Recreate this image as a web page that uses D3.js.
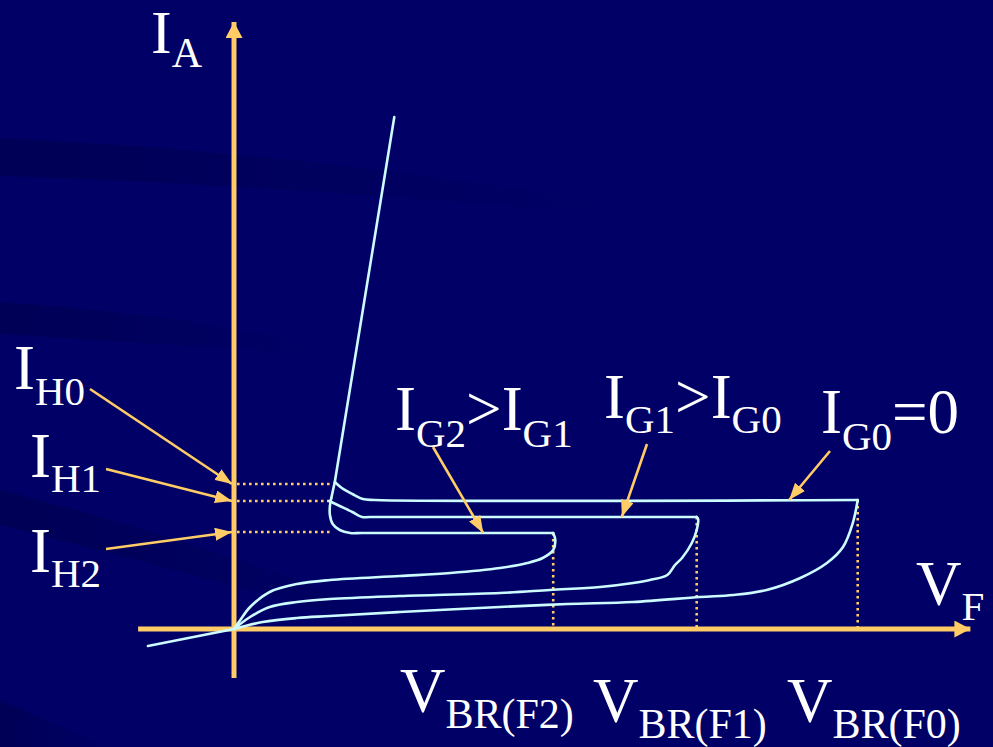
<!DOCTYPE html>
<html>
<head>
<meta charset="utf-8">
<script src="https://cdn.jsdelivr.net/npm/d3@7"></script>
<style>
  html, body { margin: 0; padding: 0; background: #000066; }
  svg { display: block; }
</style>
</head>
<body>
<svg id="chart" width="993" height="747"></svg>
<script>
// Thyristor forward characteristic: anode current I_A against forward voltage V_F
// for three gate currents (I_G0 = 0 < I_G1 < I_G2).

// breakover voltages V_BR(F0), V_BR(F1), V_BR(F2)
const breakoverV = [8.91, 6.61, 4.56];
// current of each latched (horizontal) branch
const latchedI = [2.58, 2.24, 1.92];
// holding currents I_H0, I_H1, I_H2
const holdingI = [2.90, 2.56, 1.94];
// voltage where the holding-current guide lines stop
const kneeV = 1.37;

// forward-blocking branches, origin up to breakover
const blockingG0 = [[0, 0], [0.41, 0.14], [0.9, 0.22], [1.37, 0.26], [2.37, 0.34], [3.8, 0.44],
  [4.76, 0.5], [5.7, 0.54], [6.66, 0.64], [7.13, 0.68], [7.61, 0.78], [8.09, 1.02],
  [8.47, 1.32], [8.7, 1.64], [8.84, 2.12], [8.91, 2.58]];
const blockingG1 = [[0, 0], [0.23, 0.24], [0.51, 0.44], [0.9, 0.54], [1.37, 0.6], [2.37, 0.66],
  [3.8, 0.72], [4.51, 0.78], [5.23, 0.84], [5.7, 0.92], [5.94, 0.98], [6.19, 1.08],
  [6.3, 1.28], [6.4, 1.42], [6.54, 1.72], [6.61, 1.98], [6.63, 2.2], [6.61, 2.24]];
const blockingG2 = [[0, 0], [0.09, 0.18], [0.23, 0.44], [0.51, 0.74], [0.9, 0.9], [1.37, 0.98],
  [2.37, 1.06], [3.09, 1.12], [3.8, 1.22], [4.19, 1.32], [4.41, 1.42], [4.56, 1.58],
  [4.59, 1.78], [4.56, 1.92]];

// latched branches, breakover back to the on-state line
const latchedG0 = [[8.91, 2.58], [2.01, 2.58], [1.84, 2.6], [1.69, 2.7], [1.54, 2.82], [1.44, 2.94]];
const latchedG1 = [[6.61, 2.24], [1.94, 2.24], [1.83, 2.24], [1.69, 2.34], [1.51, 2.46], [1.36, 2.56]];
const latchedG2 = [[4.56, 1.92], [1.83, 1.92], [1.66, 1.92], [1.51, 1.98], [1.41, 2.1],
  [1.37, 2.28], [1.37, 2.46], [1.39, 2.62]];

// on-state (conducting) line and reverse-bias segment
const onState = [[1.39, 2.62], [1.44, 2.94], [2.29, 10.24]];
const reverse = [[-1.23, -0.34], [0, 0]];

// axis extents
const vRange = [-1.37, 10.52];
const iRange = [-0.98, 12.14];

const W = 993, H = 747;
const svg = d3.select("#chart");

const x = d3.scaleLinear().domain([0, 10]).range([234, 934]);
const y = d3.scaleLinear().domain([0, 10]).range([629, 129]);

const AXIS = "#FFCC66";
const CURVE = "#CCFCFF";
const FONT = "'Liberation Serif', 'Times New Roman', serif";

// ---- background with faint darker swoosh bands ----
svg.append("rect").attr("width", W).attr("height", H).attr("fill", "#000066");
const defs = svg.append("defs");
const grad = defs.append("linearGradient").attr("id", "band").attr("x1", 0).attr("x2", 1).attr("y1", 0).attr("y2", 0);
grad.append("stop").attr("offset", "0%").attr("stop-color", "#000050").attr("stop-opacity", 0.75);
grad.append("stop").attr("offset", "60%").attr("stop-color", "#000050").attr("stop-opacity", 0.3);
grad.append("stop").attr("offset", "100%").attr("stop-color", "#000050").attr("stop-opacity", 0);
const bands = [
  "M0,138 Q300,152 620,204 L620,216 Q300,186 0,176 Z",
  "M0,302 Q160,312 320,344 L320,354 Q160,344 0,334 Z",
  "M0,490 Q200,540 420,625 L400,632 Q200,575 0,525 Z",
  "M0,700 Q50,722 110,747 L0,747 Z"
];
svg.selectAll("path.band").data(bands).join("path")
  .attr("class", "band").attr("d", d => d).attr("fill", "url(#band)");

// ---- arrow markers ----
function marker(id, len, wid) {
  defs.append("marker").attr("id", id)
    .attr("markerUnits", "userSpaceOnUse")
    .attr("viewBox", `0 ${-wid / 2} ${len} ${wid}`)
    .attr("refX", len).attr("refY", 0)
    .attr("markerWidth", len).attr("markerHeight", wid)
    .attr("orient", "auto")
    .append("path").attr("d", `M0,${-wid / 2}L${len},0L0,${wid / 2}Z`).attr("fill", AXIS);
}
marker("axisHead", 16, 17);
marker("noteHead", 17, 13);

// ---- dotted guide lines ----
const guides = svg.append("g").attr("stroke", AXIS).attr("stroke-width", 2.6)
  .attr("stroke-dasharray", "2.6,3.4").attr("fill", "none");
holdingI.forEach(h => {
  guides.append("line").attr("x1", x(0) + 3).attr("x2", x(kneeV)).attr("y1", y(h)).attr("y2", y(h));
});
breakoverV.forEach((v, k) => {
  guides.append("line").attr("x1", x(v)).attr("x2", x(v)).attr("y1", y(latchedI[k])).attr("y2", y(0));
});

// ---- axes ----
svg.append("line").attr("x1", x(vRange[0])).attr("x2", x(vRange[1]))
  .attr("y1", y(0)).attr("y2", y(0))
  .attr("stroke", AXIS).attr("stroke-width", 5).attr("marker-end", "url(#axisHead)");
svg.append("line").attr("x1", x(0)).attr("x2", x(0))
  .attr("y1", y(iRange[0])).attr("y2", y(iRange[1]))
  .attr("stroke", AXIS).attr("stroke-width", 5).attr("marker-end", "url(#axisHead)");

// ---- characteristic curves ----
const smooth = d3.line().x(d => x(d[0])).y(d => y(d[1])).curve(d3.curveCatmullRom.alpha(0.5));
const straight = d3.line().x(d => x(d[0])).y(d => y(d[1]));
const curves = svg.append("g").attr("fill", "none").attr("stroke", CURVE)
  .attr("stroke-width", 2.6).attr("stroke-linejoin", "round").attr("stroke-linecap", "round");
[blockingG0, blockingG1, blockingG2, latchedG0, latchedG1, latchedG2].forEach(c => {
  curves.append("path").attr("d", smooth(c));
});
curves.append("path").attr("d", straight(onState));
curves.append("path").attr("d", straight(reverse));

// ---- labels ----
function label(px, py, parts, drop, main = 63, sub = 41) {
  const t = svg.append("text").attr("x", px).attr("y", py)
    .attr("fill", "#ffffff").attr("font-family", FONT).attr("font-size", main);
  let low = false;
  parts.forEach(([s, isSub]) => {
    const ts = t.append("tspan").text(s);
    if (isSub !== low) { ts.attr("dy", isSub ? drop : -drop); low = isSub; }
    if (isSub) ts.attr("font-size", sub);
  });
}
label(151, 53, [["I", false], ["A", true]], 14, 62, 42);
label(14, 389, [["I", false], ["H0", true]], 16);
label(30, 477, [["I", false], ["H1", true]], 15);
label(30, 572, [["I", false], ["H2", true]], 15);
label(395, 430, [["I", false], ["G2", true], [">", false], ["I", false], ["G1", true]], 17);
label(604, 418, [["I", false], ["G1", true], [">", false], ["I", false], ["G0", true]], 15);
label(821, 433, [["I", false], ["G0", true], ["=0", false]], 17);
label(916, 605, [["V", false], ["F", true]], 15);
label(400, 712, [["V", false], ["BR(F2)", true]], 16, 63, 42);
label(593, 722, [["V", false], ["BR(F1)", true]], 16, 63, 42);
label(787, 722, [["V", false], ["BR(F0)", true]], 16, 63, 42);

// ---- annotation arrows: label -> curve / axis ----
const notes = [
  { from: [90, 389], to: [0, holdingI[0]] },
  { from: [106, 469], to: [0, holdingI[1]] },
  { from: [106, 549], to: [0, holdingI[2]] },
  { from: [433, 447], to: [3.56, latchedI[2]] },
  { from: [647, 444], to: [5.54, latchedI[1]] },
  { from: [830, 451], to: [7.93, latchedI[0]] }
];
svg.append("g").selectAll("line").data(notes).join("line")
  .attr("x1", d => d.from[0]).attr("y1", d => d.from[1])
  .attr("x2", d => x(d.to[0]) - (d.to[0] === 0 ? 2 : 0)).attr("y2", d => y(d.to[1]))
  .attr("stroke", AXIS).attr("stroke-width", 2.6).attr("marker-end", "url(#noteHead)");
</script>
</body>
</html>
